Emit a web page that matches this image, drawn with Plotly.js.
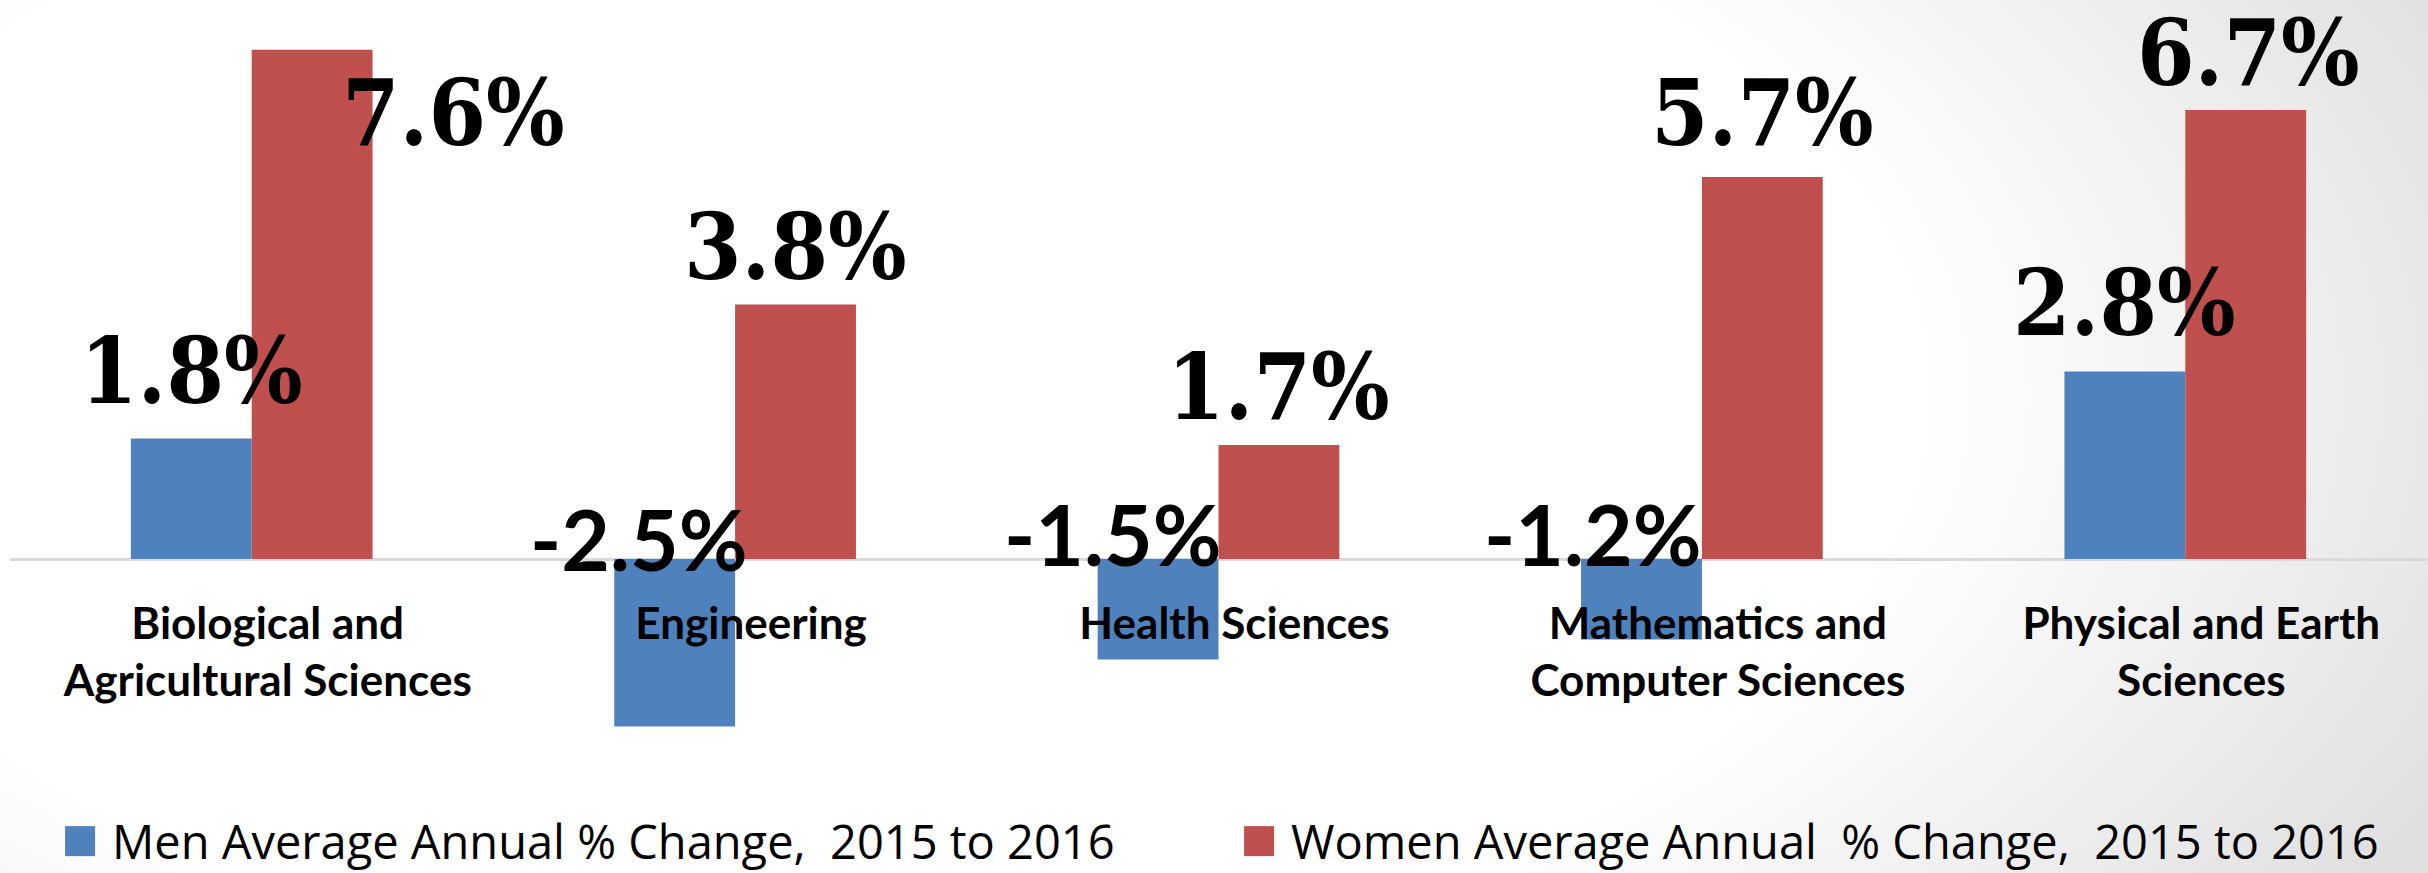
<!DOCTYPE html>
<html><head><meta charset="utf-8">
<script src="https://cdn.plot.ly/plotly-3.0.1.min.js"></script>
<style>
html,body{margin:0;padding:0;background:#fff;}
#chart{width:2428px;height:873px;background:radial-gradient(ellipse 80% 120% at 35% 45%, #ffffff 55%, #d8d8d8 100%);}
</style></head><body><div id="chart"></div>
<script>
// ---- data ----
const categories = ["Biological and Agricultural Sciences", "Engineering", "Health Sciences", "Mathematics and Computer Sciences", "Physical and Earth Sciences"];
const tickLabels = ["Biological and<br>Agricultural Sciences", "Engineering", "Health Sciences", "Mathematics and<br>Computer Sciences", "Physical and Earth<br>Sciences"];
const menValues = [1.8, -2.5, -1.5, -1.2, 2.8];
const womenValues = [7.6, 3.8, 1.7, 5.7, 6.7];
const menName = "Men Average Annual % Change,\u00a0 2015 to 2016";
const womenName = "Women Average Annual\u00a0 % Change,\u00a0 2015 to 2016";

// ---- style ----
const MEN_COLOR = '#4F81BD';
const WOMEN_COLOR = '#C0504D';
const BARGAP = 0.5;
const Y_RANGE = [-3.0, 8.194];
// manual label nudges (px) [xshift, yshift], like hand-placed data labels
const menLabelShift = [[0, 67], [-36, 21], [-45, 26], [-48, 26], [0, 68]];
const womenLabelShift = [[141, -63], [0, 57], [0, 58], [0, 64], [3, 57]];

function fmt(v) { return v.toFixed(1) + '%'; }
const barW = (1 - BARGAP) / 2;
const serifFont = {family: 'DejaVu Serif Condensed, Liberation Serif, serif', size: 92, color: '#000', weight: 'bold'};
const sansFont = {family: 'Lato, sans-serif', size: 84, color: '#000', weight: 'bold'};

const annotations = [];
function addLabels(values, shifts, offset) {
  values.forEach((v, i) => {
    annotations.push({
      x: i + offset, y: Math.max(v, 0), xref: 'x', yref: 'y',
      text: fmt(v), showarrow: false,
      xanchor: 'center', yanchor: 'middle',
      xshift: shifts[i][0], yshift: shifts[i][1],
      font: v < 0 ? sansFont : serifFont
    });
  });
}
addLabels(menValues, menLabelShift, -barW / 2);
addLabels(womenValues, womenLabelShift, barW / 2);

const traces = [
  {type: 'bar', name: menName, x: categories, y: menValues, marker: {color: MEN_COLOR}, hoverinfo: 'none'},
  {type: 'bar', name: womenName, x: categories, y: womenValues, marker: {color: WOMEN_COLOR}, hoverinfo: 'none'}
];

const layout = {
  width: 2428, height: 873,
  margin: {l: 10, r: 1, t: 10, b: 113},
  paper_bgcolor: 'rgba(0,0,0,0)', plot_bgcolor: 'rgba(0,0,0,0)',
  barmode: 'group', bargap: BARGAP, bargroupgap: 0,
  xaxis: {
    type: 'category', range: [-0.5, 4.5], tickvals: categories, ticktext: tickLabels,
    anchor: 'free', position: -Y_RANGE[0] / (Y_RANGE[1] - Y_RANGE[0]),
    showline: false, ticks: '', showgrid: false, zeroline: false,
    tickfont: {family: 'Lato, sans-serif', size: 44, color: '#000', weight: 'bold'},
    ticklabelstandoff: 35, ticklabelshift: 16, fixedrange: true
  },
  yaxis: {range: Y_RANGE, showticklabels: false, showgrid: false, zeroline: true,
    zerolinecolor: '#d9d9d9', zerolinewidth: 3, fixedrange: true},
  showlegend: true,
  legend: {
    orientation: 'h', xref: 'container', yref: 'container', x: 0.0198, y: 0.036,
    xanchor: 'left', yanchor: 'middle', itemwidth: 54,
    entrywidth: 1110, entrywidthmode: 'pixels',
    font: {family: 'Open Sans, sans-serif', size: 47, color: '#000'},
    bgcolor: 'rgba(0,0,0,0)', traceorder: 'normal'
  },
  annotations: annotations
};

Plotly.newPlot('chart', traces, layout, {displayModeBar: false, staticPlot: true}).then(() => {
  document.querySelectorAll('.legend .legendpoints path').forEach(p => {
    const t = p.getAttribute('transform') || '';
    p.setAttribute('transform', t + ' scale(2.5)');
  });
});
</script></body></html>
